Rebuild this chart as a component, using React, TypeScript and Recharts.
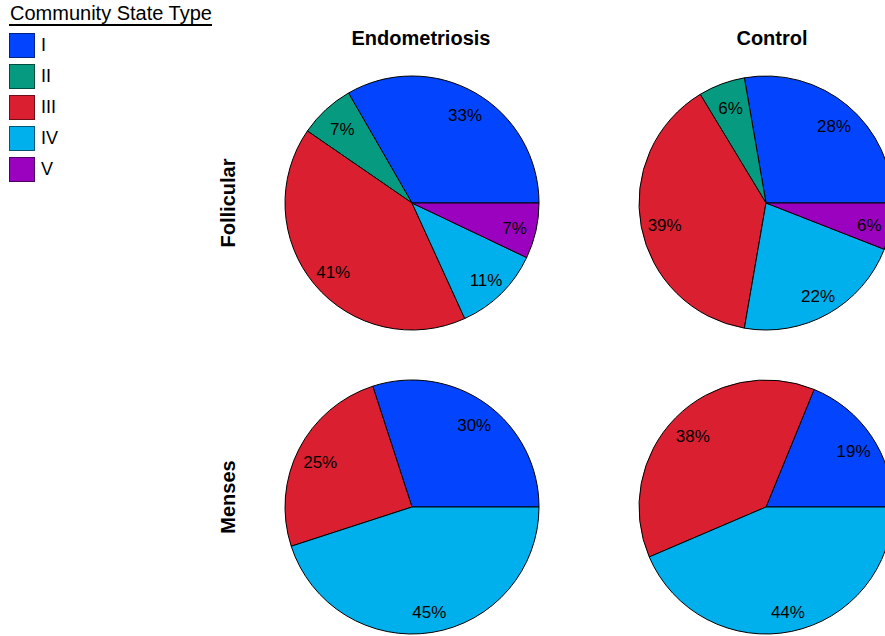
import React from 'react';
import { PieChart, Pie, Cell } from 'recharts';

// Community state types and their colours
const cstTypes = ['I', 'II', 'III', 'IV', 'V'];
const cstColors = ['#0344ff', '#069b80', '#d91f30', '#00b0ec', '#9a02c0'];
const cstBorders = ['#02237f', '#034d40', '#6c0f18', '#005876', '#4d0160'];

const groupTitles = ['Endometriosis', 'Control'];
const phaseTitles = ['Follicular', 'Menses'];

// percentages per panel, order I..V
const endoFollicular = [33, 7, 41, 11, 7];
const controlFollicular = [28, 6, 39, 22, 6];
const endoMenses = [30, 0, 25, 45, 0];
const controlMenses = [19, 0, 38, 44, 0];

const toRows = (vals: number[]) =>
  vals
    .map((v, i) => ({ name: cstTypes[i], value: v, color: cstColors[i] }))
    .filter((d) => d.value > 0);

const panels = [
  { data: toRows(endoFollicular), cx: 412, cy: 203 },
  { data: toRows(controlFollicular), cx: 766, cy: 203 },
  { data: toRows(endoMenses), cx: 412, cy: 507 },
  { data: toRows(controlMenses), cx: 766, cy: 507 },
];

const RADIAN = Math.PI / 180;
const font = 'Liberation Sans, Arial, Helvetica, sans-serif';

const renderPct = (props: any) => {
  const { cx, cy, midAngle, outerRadius, value } = props;
  const r = outerRadius * 0.82;
  const x = cx + r * Math.cos(-midAngle * RADIAN) + 1;
  const y = cy + r * Math.sin(-midAngle * RADIAN) + 3;
  return (
    <text
      x={x}
      y={y}
      fill="#000"
      fontSize={17}
      fontFamily={font}
      textAnchor="middle"
      dominantBaseline="central"
    >
      {value}%
    </text>
  );
};

export default function App() {
  return (
    <div
      style={{
        position: 'fixed',
        left: 0,
        top: 0,
        width: 885,
        height: 636,
        background: '#fff',
        overflow: 'hidden',
        fontFamily: font,
      }}
    >
      <PieChart
        width={885}
        height={636}
        margin={{ top: 0, right: 0, bottom: 0, left: 0 }}
        style={{ position: 'absolute', left: 0, top: 0 }}
      >
        {panels.map((p, i) => (
          <Pie
            key={i}
            data={p.data}
            dataKey="value"
            nameKey="name"
            cx={p.cx}
            cy={p.cy}
            outerRadius={127}
            startAngle={0}
            endAngle={360}
            stroke="#000"
            strokeWidth={1}
            label={renderPct}
            labelLine={false}
            isAnimationActive={false}
          >
            {p.data.map((d) => (
              <Cell key={d.name} fill={d.color} />
            ))}
          </Pie>
        ))}
      </PieChart>

      {/* legend */}
      <div style={{ position: 'absolute', left: 10, top: 1, fontSize: 20, lineHeight: '24px', color: '#000' }}>
        Community State Type
      </div>
      <div style={{ position: 'absolute', left: 9, top: 24, width: 203, height: 2, background: '#000' }} />
      {cstTypes.map((t, i) => (
        <React.Fragment key={t}>
          <div
            style={{
              position: 'absolute',
              left: 9,
              top: 33 + i * 31,
              width: 24,
              height: 23,
              background: cstColors[i],
              border: `1px solid ${cstBorders[i]}`,
            }}
          />
          <div
            style={{
              position: 'absolute',
              left: 41,
              top: 34 + i * 31,
              fontSize: 18,
              lineHeight: '22px',
              color: '#000',
            }}
          >
            {t}
          </div>
        </React.Fragment>
      ))}

      {/* column titles */}
      {groupTitles.map((g, i) => (
        <div
          key={g}
          style={{
            position: 'absolute',
            left: [421, 772][i] - 100,
            top: 26,
            width: 200,
            textAlign: 'center',
            fontWeight: 'bold',
            fontSize: 20,
            lineHeight: '24px',
          }}
        >
          {g}
        </div>
      ))}

      {/* row titles */}
      {phaseTitles.map((p, i) => (
        <div
          key={p}
          style={{
            position: 'absolute',
            left: 228 - 100,
            top: [203, 497][i] - 12,
            width: 200,
            height: 24,
            lineHeight: '24px',
            textAlign: 'center',
            fontWeight: 'bold',
            fontSize: 20,
            transform: 'rotate(-90deg)',
          }}
        >
          {p}
        </div>
      ))}
    </div>
  );
}
